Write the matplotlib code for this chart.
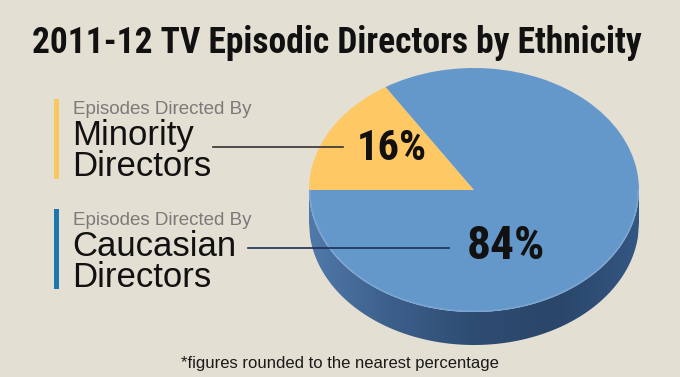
import os
import numpy as np
import matplotlib
matplotlib.use("Agg")
import matplotlib.pyplot as plt
from matplotlib import font_manager
from matplotlib.font_manager import FontProperties
from matplotlib.patches import Polygon, Rectangle

# dados
labels = ["Minority Directors", "Caucasian Directors"]
valores = [16, 84]
rotulos = ["16%", "84%"]
titulo = "2011-12 TV Episodic Directors by Ethnicity"
subtitulo = "Episodes Directed By"
nota = "*figures rounded to the nearest percentage"

# cores
fundo = "#e4dfd3"
amarelo = "#fec964"
azul = "#6598ca"

# procura uma fonte condensada em negrito
arquivos = {os.path.basename(f.fname): f.fname for f in font_manager.fontManager.ttflist}
preferidas = ["NotoSans-ExtraCondensedBold.ttf", "NotoSans-ExtraCondensedBlack.ttf",
              "NotoSans-CondensedBold.ttf", "RobotoCondensed-Bold.ttf",
              "LiberationSansNarrow-Bold.ttf", "DejaVuSansCondensed-Bold.ttf"]
fp_cond = None
for p in preferidas:
    if p in arquivos:
        fp_cond = FontProperties(fname=arquivos[p])
        break
if fp_cond is None:
    cands = [f.fname for f in font_manager.fontManager.ttflist
             if ("Condensed" in f.fname or "Narrow" in f.fname) and "Bold" in f.fname]
    if cands:
        fp_cond = FontProperties(fname=sorted(cands)[0])
    else:
        fp_cond = FontProperties(family="DejaVu Sans", weight="bold")
sans = "Liberation Sans"

W, H = 680, 377
fig = plt.figure(figsize=(W / 100, H / 100), dpi=100, facecolor=fundo)

# eixo de fundo em pixels (fica por cima da pizza)
bg = fig.add_axes([0, 0, 1, 1], zorder=2)
bg.set_xlim(0, W)
bg.set_ylim(H, 0)
bg.axis("off")

# --------------------------
# pizza "3D"
# --------------------------
cx, cy, a, b = 474, 190, 165, 122
prof = 33 / b
base_px = cy + b + prof * b + 6
pie_ax = fig.add_axes([(cx - a) / W, 1 - base_px / H, 2 * a / W, (base_px - (cy - b)) / H], zorder=1)
pie_ax.pie(valores, colors=[amarelo, azul], startangle=180 - 360 * valores[0] / sum(valores),
           counterclock=True, wedgeprops=dict(linewidth=0))
pie_ax.set_aspect("auto")
pie_ax.set_xlim(-1, 1)
pie_ax.set_ylim(-1 - (base_px - cy - b) / b, 1)
pie_ax.axis("off")

# lateral com gradiente
xs = np.linspace(-1, 1, 300)
topo = -np.sqrt(np.clip(1 - xs ** 2, 0, 1))
verts = np.concatenate([np.c_[xs, topo], np.c_[xs[::-1], topo[::-1] - prof]])
lateral = Polygon(verts, closed=True, facecolor="none", edgecolor="none")
pie_ax.add_patch(lateral)
grad = np.linspace(0, 1, 256)[None, :]
cmap = matplotlib.colors.LinearSegmentedColormap.from_list(
    "lado", ["#5079aa", "#3c5f8a", "#2e4c72", "#2a4669", "#345683"])
img = pie_ax.imshow(grad, extent=[-1, 1, -1 - prof, 0], aspect="auto", cmap=cmap, zorder=0.5)
img.set_clip_path(lateral)
for w in pie_ax.patches[:2]:
    w.set_zorder(1)
# brilho na borda frontal
ang = np.linspace(np.pi, 2 * np.pi, 200)
pie_ax.plot(np.cos(ang) * 0.995, np.sin(ang) * 0.995, color="#88b0da", lw=1, alpha=0.6, zorder=2)

# --------------------------
# textos e linhas
# --------------------------
t_tit = bg.text(32, 53, titulo, fontsize=31, fontproperties=fp_cond,
                color="#111111", ha="left", va="baseline")
t16 = bg.text(357, 160, rotulos[0], fontproperties=fp_cond, color="#111111", ha="left", va="baseline")
t84 = bg.text(467, 259, rotulos[1], fontproperties=fp_cond, color="#111111", ha="left", va="baseline")

# ajusta o tamanho da fonte para a largura desejada
r = fig.canvas.get_renderer()
for t, larg, tam in [(t_tit, 611, 31), (t16, 70, 26), (t84, 78, 27)]:
    t.set_fontsize(tam)
    w = t.get_window_extent(renderer=r).width
    t.set_fontsize(tam * larg / w)

bg.add_patch(Rectangle((54, 99), 5, 80, color="#f8c85e", lw=0))
bg.add_patch(Rectangle((54, 209), 5, 80, color="#1a78ad", lw=0))

blocos = [(114, 145, 176, "Minority"), (225, 256, 287, "Caucasian")]
for y1, y2, y3, nome in blocos:
    bg.text(73, y1, subtitulo, fontsize=13.5, family=sans, color="#7a7a7a", va="baseline")
    bg.text(72, y2, nome, fontsize=25, family=sans, color="#111111", va="baseline")
    bg.text(72, y3, "Directors", fontsize=25, family=sans, color="#111111", va="baseline")

bg.plot([213, 343], [147, 147], color="#333333", lw=1.2)
bg.plot([248, 449], [248, 248], color="#1e2f55", lw=1.2)

bg.text(340, 368, nota, fontsize=12, family=sans, color="#1a1a1a", ha="center", va="baseline")

fig.savefig("out.png", dpi=100, facecolor=fundo)
